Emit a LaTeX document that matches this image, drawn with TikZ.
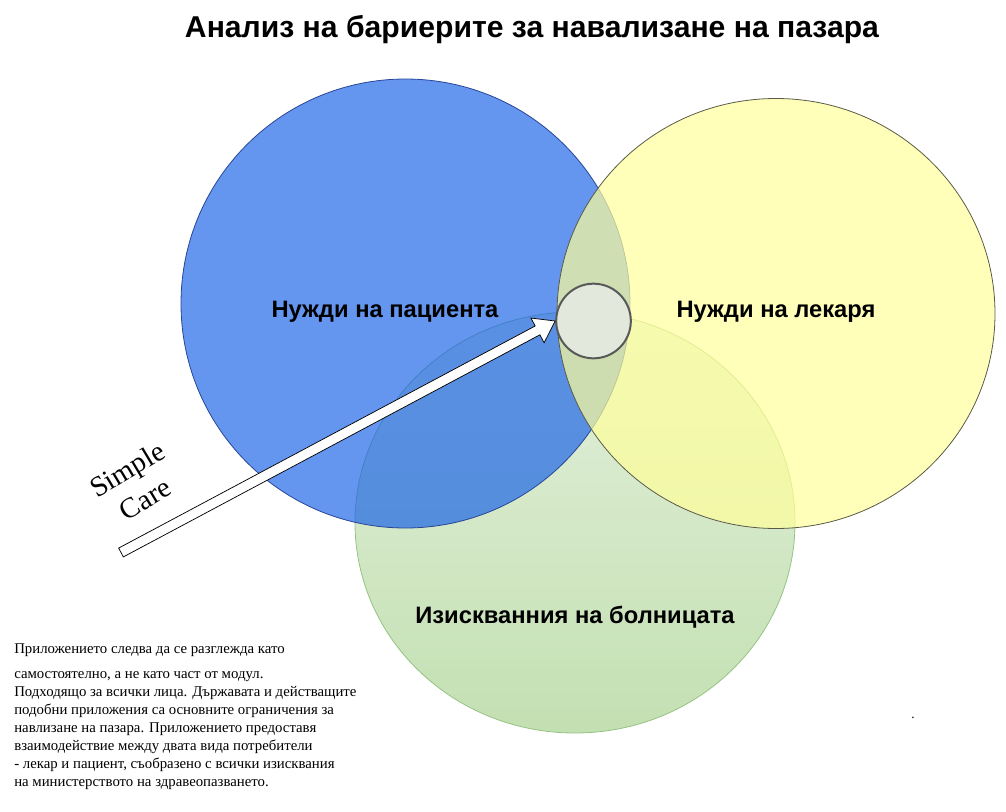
\documentclass[tikz,border=0pt]{standalone}
\usepackage{fontspec}
\setmainfont{Liberation Serif}
\setsansfont{Liberation Sans}
\usetikzlibrary{shapes.geometric,calc,positioning}

\definecolor{patblue}{RGB}{26,99,232}
\definecolor{patedge}{RGB}{40,70,150}
\definecolor{docyellow}{RGB}{255,255,155}
\definecolor{docedge}{RGB}{90,90,70}
\definecolor{hosptop}{RGB}{228,240,220}
\definecolor{hospbot}{RGB}{195,224,178}
\definecolor{hospedge}{RGB}{150,195,130}
\definecolor{corefill}{RGB}{229,235,225}

\begin{document}
\begin{tikzpicture}[x=0.75pt, y=-0.75pt,
  venn/.style={ellipse, inner sep=0pt, line width=0.6pt},
  lbl/.style={font=\sffamily\bfseries\fontsize{17.8}{20}\selectfont},
  note/.style={align=left, font=\fontsize{11.1}{13.5}\selectfont, inner sep=0pt},
  hollow/.style={draw, fill=white, line width=0.55pt, line join=miter}
]
\useasboundingbox (0,0) rectangle (1006,811);

\node[font=\sffamily\bfseries\fontsize{22.6}{26}\selectfont] (title) at (532,30) {Анализ на бариерите за навализане на пазара};

\node[venn, draw=hospedge, top color=hosptop, bottom color=hospbot, minimum width=330pt, minimum height=315.75pt] (hosp) at (575,522.5) {};
\node[venn, draw=patedge, fill=patblue, fill opacity=0.68, minimum width=336.75pt, minimum height=336.75pt] (pat) at (405.5,303.5) {};
\node[venn, draw=docedge, fill=docyellow, fill opacity=0.7, minimum width=328.5pt, minimum height=322.5pt] (doc) at (776,313.5) {};

\node[circle, draw=black!65, line width=1.5pt, fill=corefill, fill opacity=0.9, minimum size=56pt, inner sep=0pt] (core) at (593.5,321) {};

\node[lbl] (patlbl) at (385,312) {Нужди на пациента};
\node[lbl] (doclbl) at (776,312) {Нужди на лекаря};
\node[lbl] (hosplbl) at (575,617) {Изискванния на болницата};

\coordinate (tail) at (121,552.5);
\coordinate (hb) at ($(core.west)!15pt!(tail)$);
\draw[hollow] ($(tail)!3.75pt!90:(core.west)$) -- ($(hb)!3.75pt!-90:(tail)$) -- ($(hb)!10.5pt!-90:(tail)$)
  -- (core.west) -- ($(hb)!10.5pt!90:(tail)$) -- ($(hb)!3.75pt!90:(tail)$) -- ($(tail)!3.75pt!-90:(core.west)$) -- cycle;

\node[align=center, rotate=31, font=\fontsize{21.5}{26}\selectfont] (simple) at (136,484) {Simple\\Care};

\node[note, anchor=north west] (notes) at (14,644) {Приложението следва да се разглежда като\\[5pt]
самостоятелно, а не като част от модул.\\
Подходящо за всички лица. Държавата и действащите\\
подобни приложения са основните ограничения за\\
навлизане на пазара. Приложението предоставя\\
взаимодействие между двата вида потребители\\
- лекар и пациент, съобразено с всички изисквания\\
на министерството на здравеопазването.};

\node[font=\fontsize{10}{12}\selectfont, inner sep=0pt] (dot) at (913,718) {.};

\end{tikzpicture}
\end{document}
